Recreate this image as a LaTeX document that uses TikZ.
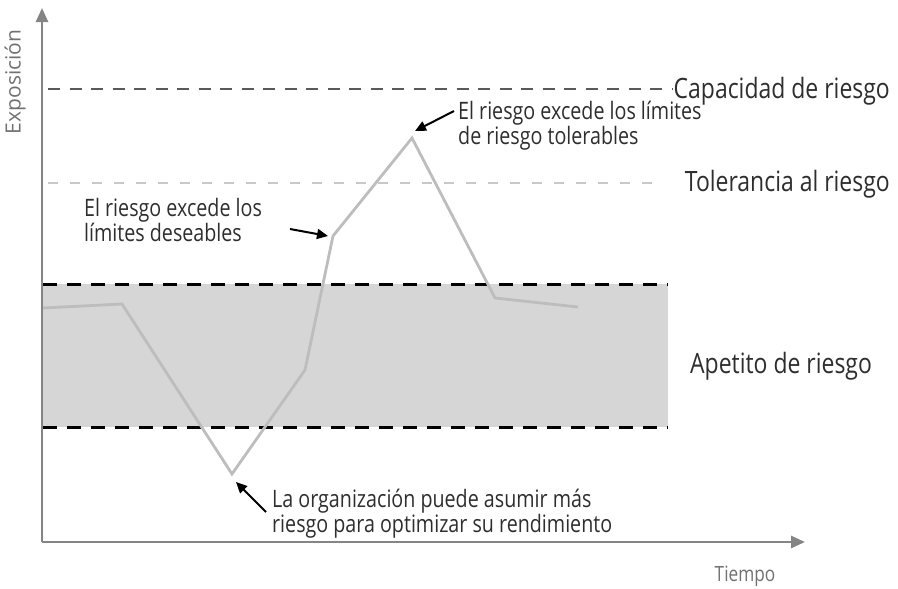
\documentclass[tikz,border=0pt]{standalone}
\usepackage{fontspec}
\setmainfont{Open Sans}
\newfontfamily\condfont[FakeStretch=0.82]{Open Sans}
\usetikzlibrary{arrows.meta}
\definecolor{axisgray}{HTML}{858585}
\definecolor{bandgray}{HTML}{D6D6D6}
\definecolor{riskgray}{HTML}{BDBDBD}
\definecolor{capgray}{HTML}{5A5A5A}
\definecolor{tolgray}{HTML}{C8C8C8}
\definecolor{txtgray}{HTML}{2E2E2E}
\tikzset{
  axisline/.style={draw=axisgray, line width=2.6pt, -{Triangle[length=14pt,width=12pt]}},
  capline/.style={draw=capgray, line width=2pt, dash pattern=on 12pt off 9.5pt},
  tolline/.style={draw=tolgray, line width=1.3pt, dash pattern=on 10pt off 12pt},
  appline/.style={draw=black, line width=3pt, dash pattern=on 14pt off 10pt},
  riskline/.style={draw=riskgray, line width=2.8pt, line join=miter},
  annarrow/.style={draw=black, line width=2pt, -{Triangle[length=11pt,width=10pt]}},
  lbl/.style={font=\condfont\fontsize{28}{30}\selectfont, text=txtgray, inner sep=0pt},
  note/.style={font=\condfont\fontsize{24}{25}\selectfont, text=txtgray, inner sep=0pt, align=left},
  axlbl/.style={font=\fontsize{21}{22}\selectfont, text=axisgray!85!black, inner sep=0pt}
}
\begin{document}
\begin{tikzpicture}[x=1pt,y=-1pt]
\useasboundingbox (0,0) rectangle (898,589);
% band
\fill[bandgray] (43,284) rectangle (668,427);
\draw[appline] (43,284) -- (668,284);
\draw[appline] (43,427) -- (668,427);
% capacity and tolerance
\draw[capline] (48,89) -- (672,89);
\draw[tolline] (48,183) -- (660,183);
% risk curve
\draw[riskline] (43,308) -- (122,304) -- (232,474) -- (305,370) -- (333,236) -- (412,138) -- (495,298) -- (578,307);
% axes
\coordinate (O) at (42,542);
\coordinate (ytip) at (42,8);
\coordinate (xtip) at (805,542);
\draw[axisline] (O) -- (ytip);
\draw[axisline] (O) -- (xtip);
\node[axlbl, rotate=90] (ylab) at (15,82) {Exposición};
\node[axlbl, font=\condfont\fontsize{21}{22}\selectfont] (xlab) at (745,576) {Tiempo};
% right labels
\node[lbl, anchor=base east] (cap) at (890,98) {Capacidad de riesgo};
\node[lbl, anchor=base east] (tol) at (890,191) {Tolerancia al riesgo};
\node[lbl, anchor=base west] (app) at (690,373) {Apetito de riesgo};
% notes (base anchor = baseline of last line)
\node[note, anchor=base west] (n1) at (458,144) {El riesgo excede los límites\\de riesgo tolerables};
\node[note, anchor=base west] (n2) at (84,241) {El riesgo excede los\\límites deseables};
\node[note, anchor=base west] (n3) at (272,532) {La organización puede asumir más\\riesgo para optimizar su rendimiento};
\coordinate (a1s) at (454,111);
\coordinate (a1e) at (415,131);
\coordinate (a2s) at (290,229);
\coordinate (a2e) at (328,236);
\coordinate (a3s) at (266,512);
\coordinate (a3e) at (236,482);
\draw[annarrow] (a1s) -- (a1e);
\draw[annarrow] (a2s) -- (a2e);
\draw[annarrow] (a3s) -- (a3e);
\end{tikzpicture}
\end{document}
